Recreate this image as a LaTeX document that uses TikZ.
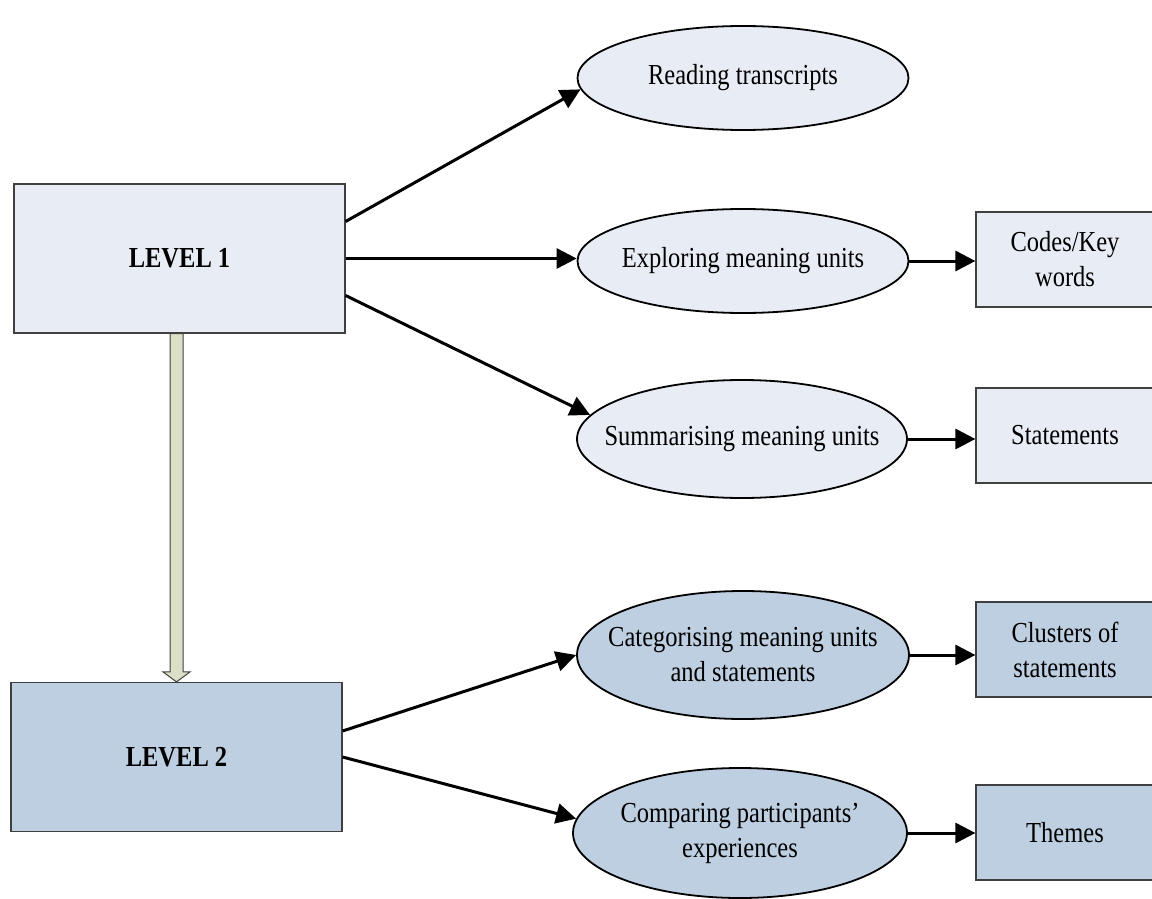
\documentclass[tikz,border=0pt]{standalone}
\usepackage{fontspec}
\setmainfont{Liberation Serif}[FakeStretch=0.845]
\usetikzlibrary{arrows.meta,shapes.geometric}

\definecolor{paleblue}{HTML}{E8ECF4}
\definecolor{steelpale}{HTML}{BDCFE1}
\definecolor{olivepale}{HTML}{DCDFC8}
\definecolor{edgegray}{HTML}{404040}

\begin{document}
\begin{tikzpicture}[x=1pt,y=-1pt,
  txt/.style={font=\fontsize{29}{35}\selectfont, align=center, text=black},
  levelbox/.style={txt, draw=edgegray, line width=1.2pt, font=\fontsize{29}{35}\selectfont\bfseries,
    minimum width=331pt, minimum height=149pt, inner sep=0pt},
  stepoval/.style={ellipse, draw=black, line width=1.8pt, inner sep=0pt,
    label={[txt]center:#1}},
  outbox/.style={txt, draw=edgegray, line width=1.2pt, minimum width=178pt,
    minimum height=95pt, inner sep=0pt},
  link/.style={line width=3pt, -{Triangle[length=20pt,width=20pt]}}
]
\useasboundingbox (0,0) rectangle (1152,899);

% level boxes
\node[levelbox, fill=paleblue] (l1) at (179.5,258.5) {LEVEL 1};
\node[levelbox, fill=steelpale] (l2) at (176.5,757) {LEVEL 2};

% level 1 steps
\node[stepoval={Reading transcripts}, fill=paleblue, minimum width=331pt, minimum height=104pt] (rt) at (743,78) {};
\node[stepoval={Exploring meaning units}, fill=paleblue, minimum width=331pt, minimum height=104pt] (ex) at (743,261) {};
\node[stepoval={Summarising meaning units}, fill=paleblue, minimum width=330pt, minimum height=118pt] (su) at (742,439) {};

% level 2 steps
\node[stepoval={Categorising meaning units\\and statements}, fill=steelpale, minimum width=332pt, minimum height=128pt] (ca) at (743,655) {};
\node[stepoval={Comparing participants'\\experiences}, fill=steelpale, minimum width=334pt, minimum height=130pt] (co) at (740,833) {};

% outcomes
\node[outbox, fill=paleblue] (kw) at (1065,259.5) {Codes/Key\\words};
\node[outbox, fill=paleblue] (st) at (1065,435.5) {Statements};
\node[outbox, fill=steelpale] (cl) at (1065,649.5) {Clusters of\\statements};
\node[outbox, fill=steelpale] (th) at (1065,832.5) {Themes};

% block arrow from level 1 down to level 2
\coordinate (dtop) at (l2.north |- l1.south);
\coordinate (dbot) at (l2.north);
\fill[olivepale, draw=edgegray, line width=1pt]
  ([xshift=-6.5pt]dtop) -- ([xshift=6.5pt]dtop)
  -- ([xshift=6.5pt,yshift=10pt]dbot) -- ([xshift=13.5pt,yshift=10pt]dbot)
  -- (dbot)
  -- ([xshift=-13.5pt,yshift=10pt]dbot) -- ([xshift=-6.5pt,yshift=10pt]dbot) -- cycle;

% connectors
\draw[link] ([yshift=37pt]l1.east) -- (rt.184);
\draw[link] (l1.east) -- (l1.east -| ex.west);
\draw[link] ([yshift=-37pt]l1.east) -- (su.171);
\draw[link] (ex.east) -- (ex.east -| kw.west);
\draw[link] (su.east) -- (su.east -| st.west);

\draw[link] ([yshift=26pt]l2.east) -- (ca.west);
\draw[link] (l2.east) -- (co.175);
\draw[link] (ca.east) -- (ca.east -| cl.west);
\draw[link] (co.east) -- (co.east -| th.west);
\end{tikzpicture}
\end{document}
